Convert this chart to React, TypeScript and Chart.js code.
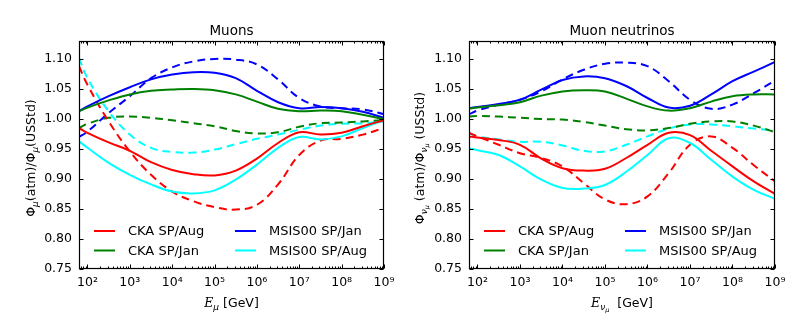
import React, { useEffect, useRef } from "react";
import { Chart, registerables } from "chart.js";

Chart.register(...registerables);

// ---- data ----
const energy = [63.1, 100, 316.2, 1000, 3162, 10000, 31623, 100000, 316228, 1000000, 3162278, 10000000, 31622777, 100000000, 316227766, 1000000000];
const xTickValues = [1e2, 1e3, 1e4, 1e5, 1e6, 1e7, 1e8, 1e9];
const xTickExponents = ["²", "³", "⁴", "⁵", "⁶", "⁷", "⁸", "⁹"];
const yTickValues = [0.75, 0.8, 0.85, 0.9, 0.95, 1.0, 1.05, 1.1];
const legendLabels = ["CKA SP/Aug", "CKA SP/Jan", "MSIS00 SP/Jan", "MSIS00 SP/Aug"];
const seriesColors = ["#ff0000", "#008000", "#0000ff", "#00ffff"];

// Muons
const muCkaAug = [0.985, 0.977, 0.961, 0.947, 0.928, 0.915, 0.908, 0.906, 0.914, 0.934, 0.960, 0.978, 0.974, 0.977, 0.988, 0.998];
const muCkaJan = [1.013, 1.019, 1.031, 1.041, 1.047, 1.049, 1.050, 1.048, 1.041, 1.029, 1.017, 1.013, 1.014, 1.013, 1.007, 1.000];
const muMsisJan = [1.013, 1.021, 1.038, 1.053, 1.066, 1.074, 1.078, 1.077, 1.068, 1.047, 1.028, 1.018, 1.020, 1.018, 1.012, 1.002];
const muMsisAug = [0.963, 0.952, 0.927, 0.907, 0.891, 0.879, 0.876, 0.881, 0.899, 0.924, 0.952, 0.970, 0.966, 0.971, 0.985, 0.998];
const muCkaAugAlt = [1.088, 1.057, 0.996, 0.946, 0.907, 0.879, 0.863, 0.853, 0.849, 0.857, 0.891, 0.940, 0.964, 0.967, 0.974, 0.985];
const muCkaJanAlt = [0.985, 0.992, 1.002, 1.004, 1.002, 0.998, 0.993, 0.988, 0.980, 0.976, 0.978, 0.987, 0.993, 0.994, 0.996, 0.998];
const muMsisJanAlt = [0.970, 0.979, 1.010, 1.038, 1.068, 1.086, 1.096, 1.100, 1.099, 1.091, 1.066, 1.035, 1.021, 1.018, 1.016, 1.008];
const muMsisAugAlt = [1.102, 1.068, 1.013, 0.974, 0.952, 0.945, 0.944, 0.949, 0.958, 0.967, 0.974, 0.982, 0.989, 0.992, 0.993, 0.996];

// Muon neutrinos
const nuCkaAug = [0.971, 0.969, 0.965, 0.957, 0.934, 0.918, 0.914, 0.917, 0.935, 0.957, 0.977, 0.973, 0.947, 0.921, 0.896, 0.875];
const nuCkaJan = [1.017, 1.019, 1.023, 1.028, 1.039, 1.046, 1.048, 1.046, 1.034, 1.021, 1.014, 1.018, 1.029, 1.038, 1.041, 1.041];
const nuMsisJan = [1.018, 1.020, 1.025, 1.032, 1.049, 1.065, 1.071, 1.068, 1.055, 1.035, 1.019, 1.022, 1.041, 1.063, 1.079, 1.095];
const nuMsisAug = [0.951, 0.948, 0.940, 0.921, 0.899, 0.885, 0.884, 0.890, 0.912, 0.940, 0.968, 0.960, 0.932, 0.904, 0.882, 0.867];
const nuCkaAugAlt = [0.977, 0.971, 0.957, 0.943, 0.935, 0.921, 0.893, 0.866, 0.858, 0.871, 0.910, 0.957, 0.971, 0.952, 0.923, 0.896];
const nuCkaJanAlt = [1.004, 1.005, 1.004, 1.002, 1.000, 0.999, 0.995, 0.989, 0.983, 0.981, 0.985, 0.992, 0.996, 0.996, 0.989, 0.978];
const nuMsisJanAlt = [1.008, 1.014, 1.024, 1.032, 1.046, 1.066, 1.082, 1.092, 1.094, 1.088, 1.063, 1.032, 1.017, 1.024, 1.043, 1.064];
const nuMsisAugAlt = [0.977, 0.971, 0.966, 0.962, 0.962, 0.956, 0.947, 0.946, 0.957, 0.971, 0.984, 0.991, 0.991, 0.988, 0.984, 0.981];

const FONT = "DejaVu Sans";
const TICK_SIZE = 12.5;
const MAIN = `${TICK_SIZE}px "${FONT}"`;
const SUB = `italic 9px "${FONT}"`;
const SUBSUB = `italic 6.5px "${FONT}"`;

type Part = { t: string; f: string; dy?: number };

function drawRich(ctx: CanvasRenderingContext2D, parts: Part[], cx: number, baseY: number) {
  let w = 0;
  for (const p of parts) {
    ctx.font = p.f;
    w += ctx.measureText(p.t).width;
  }
  let x = cx - w / 2;
  ctx.textAlign = "left";
  ctx.textBaseline = "alphabetic";
  for (const p of parts) {
    ctx.font = p.f;
    ctx.fillText(p.t, x, baseY + (p.dy || 0));
    x += ctx.measureText(p.t).width;
  }
}

const decoPlugin = {
  id: "deco",
  afterDraw(chart: any, _args: any, opts: any) {
    const { ctx, chartArea: a, scales } = chart;
    const xs = scales.x;
    const ys = scales.y;
    ctx.save();
    ctx.strokeStyle = "#000";
    ctx.fillStyle = "#000";
    ctx.lineWidth = 1;
    const L = Math.round(a.left) + 0.5;
    const R = Math.round(a.right) - 0.5;
    const T = Math.round(a.top) + 0.5;
    const B = Math.round(a.bottom) - 0.5;
    ctx.beginPath();
    for (let d = 1; d <= 9; d++) {
      for (let m = 1; m <= 9; m++) {
        const v = m * Math.pow(10, d);
        if (v < xs.min || v > xs.max) continue;
        const px = Math.round(xs.getPixelForValue(v)) + 0.5;
        const len = m === 1 ? 4 : 2;
        ctx.moveTo(px, B);
        ctx.lineTo(px, B - len);
        ctx.moveTo(px, T);
        ctx.lineTo(px, T + len);
      }
    }
    for (const v of yTickValues) {
      const py = Math.round(ys.getPixelForValue(v)) + 0.5;
      ctx.moveTo(L, py);
      ctx.lineTo(L + 4, py);
      ctx.moveTo(R, py);
      ctx.lineTo(R - 4, py);
    }
    ctx.stroke();
    ctx.lineWidth = 1.2;
    ctx.strokeRect(L, T, R - L, B - T);

    ctx.font = `13.5px "${FONT}"`;
    ctx.textAlign = "center";
    ctx.textBaseline = "alphabetic";
    ctx.fillText(opts.title, (a.left + a.right) / 2, 35);

    drawRich(ctx, opts.xLabel, (a.left + a.right) / 2, 306.5);

    ctx.save();
    ctx.translate(opts.yLabelX, 158);
    ctx.rotate(-Math.PI / 2);
    drawRich(ctx, opts.yLabel, 0, 0);
    ctx.restore();

    const ds = chart.data.datasets;
    ctx.font = `13px "${FONT}"`;
    ctx.textAlign = "left";
    ctx.textBaseline = "alphabetic";
    legendLabels.forEach((lab: string, i: number) => {
      const d = ds.find((s: any) => s.label === lab);
      if (!d) return;
      const col = i < 2 ? 0 : 1;
      const row = i % 2;
      const x0 = a.left + (col === 0 ? 15 : 156);
      const lineY = a.bottom - (row === 0 ? 38 : 18.5);
      const baseY = a.bottom - (row === 0 ? 34 : 14.5);
      ctx.strokeStyle = d.borderColor;
      ctx.lineWidth = 2;
      ctx.setLineDash([]);
      ctx.beginPath();
      ctx.moveTo(x0, lineY);
      ctx.lineTo(x0 + 21, lineY);
      ctx.stroke();
      ctx.fillStyle = "#000";
      ctx.fillText(lab, x0 + 34, baseY);
    });
    ctx.restore();
  },
};

function makeDatasets(solid: number[][], dashed: number[][]) {
  const out: any[] = [];
  solid.forEach((arr, i) => {
    out.push({
      label: legendLabels[i],
      data: arr.map((v, k) => ({ x: energy[k], y: v })),
      borderColor: seriesColors[i],
      borderWidth: 2,
      pointRadius: 0,
      tension: 0.4,
      fill: false,
    });
  });
  dashed.forEach((arr, i) => {
    out.push({
      label: legendLabels[i] + " (alt)",
      data: arr.map((v, k) => ({ x: energy[k], y: v })),
      borderColor: seriesColors[i],
      borderWidth: 2,
      borderDash: [8, 5],
      pointRadius: 0,
      tension: 0.4,
      fill: false,
    });
  });
  return out;
}

function Panel(props: {
  left: number;
  yAxisWidth: number;
  padRight: number;
  title: string;
  xLabel: Part[];
  yLabel: Part[];
  yLabelX: number;
  solid: number[][];
  dashed: number[][];
}) {
  const ref = useRef<HTMLCanvasElement | null>(null);
  useEffect(() => {
    if (!ref.current) return;
    const chart = new Chart(ref.current, {
      type: "line",
      data: { datasets: makeDatasets(props.solid, props.dashed) },
      options: {
        animation: false,
        responsive: false,
        maintainAspectRatio: false,
        layout: { padding: { left: 0, right: props.padRight, top: 41, bottom: 0 } },
        plugins: {
          legend: { display: false },
          tooltip: { enabled: false },
          deco: { title: props.title, xLabel: props.xLabel, yLabel: props.yLabel, yLabelX: props.yLabelX },
        } as any,
        scales: {
          x: {
            type: "logarithmic",
            min: 63.1,
            max: 1e9,
            grid: { display: false, drawTicks: false },
            border: { display: false },
            afterBuildTicks: (s: any) => {
              s.ticks = xTickValues.map((v) => ({ value: v }));
            },
            afterFit: (s: any) => {
              s.height = 65;
            },
            ticks: {
              autoSkip: false,
              maxRotation: 0,
              minRotation: 0,
              padding: 6,
              color: "#000",
              font: { family: FONT, size: TICK_SIZE },
              callback: (v: any) => {
                const idx = xTickValues.indexOf(Number(v));
                return idx >= 0 ? "10" + xTickExponents[idx] : "";
              },
            },
          },
          y: {
            type: "linear",
            min: 0.75,
            max: 1.13,
            grid: { display: false, drawTicks: false },
            border: { display: false },
            afterBuildTicks: (s: any) => {
              s.ticks = yTickValues.map((v) => ({ value: v }));
            },
            afterFit: (s: any) => {
              s.width = props.yAxisWidth;
            },
            ticks: {
              padding: 7,
              color: "#000",
              font: { family: FONT, size: TICK_SIZE },
              callback: (v: any) => Number(v).toFixed(2),
            },
          },
        },
      } as any,
      plugins: [decoPlugin as any],
    });
    return () => chart.destroy();
  }, []);
  return (
    <canvas
      ref={ref}
      width={405}
      height={334}
      style={{ position: "absolute", left: props.left, top: 0, width: 405, height: 334, display: "block" }}
    />
  );
}

export default function App() {
  useEffect(() => {
    document.body.style.margin = "0";
    document.body.style.background = "#fff";
  }, []);
  const muY: Part[] = [
    { t: "Φ", f: MAIN },
    { t: "μ", f: SUB, dy: 3 },
    { t: "(atm)/Φ", f: MAIN },
    { t: "μ", f: SUB, dy: 3 },
    { t: "(USStd)", f: MAIN },
  ];
  const nuY: Part[] = [
    { t: "Φ", f: MAIN },
    { t: "ν", f: SUB, dy: 3 },
    { t: "μ", f: SUBSUB, dy: 5 },
    { t: " (atm)/Φ", f: MAIN },
    { t: "ν", f: SUB, dy: 3 },
    { t: "μ", f: SUBSUB, dy: 5 },
    { t: " (USStd)", f: MAIN },
  ];
  const muX: Part[] = [
    { t: "E", f: `italic ${TICK_SIZE}px "DejaVu Serif"` },
    { t: "μ", f: SUB, dy: 3 },
    { t: " [GeV]", f: MAIN },
  ];
  const nuX: Part[] = [
    { t: "E", f: `italic ${TICK_SIZE}px "DejaVu Serif"` },
    { t: "ν", f: SUB, dy: 3 },
    { t: "μ", f: SUBSUB, dy: 5 },
    { t: "  [GeV]", f: MAIN },
  ];
  return (
    <div style={{ position: "absolute", left: 0, top: 0, width: 810, height: 334, background: "#fff" }}>
      <Panel
        left={0}
        yAxisWidth={79}
        padRight={21}
        title="Muons"
        xLabel={muX}
        yLabel={muY}
        yLabelX={35}
        solid={[muCkaAug, muCkaJan, muMsisJan, muMsisAug]}
        dashed={[muCkaAugAlt, muCkaJanAlt, muMsisJanAlt, muMsisAugAlt]}
      />
      <Panel
        left={405}
        yAxisWidth={64}
        padRight={35}
        title="Muon neutrinos"
        xLabel={nuX}
        yLabel={nuY}
        yLabelX={18.5}
        solid={[nuCkaAug, nuCkaJan, nuMsisJan, nuMsisAug]}
        dashed={[nuCkaAugAlt, nuCkaJanAlt, nuMsisJanAlt, nuMsisAugAlt]}
      />
    </div>
  );
}
